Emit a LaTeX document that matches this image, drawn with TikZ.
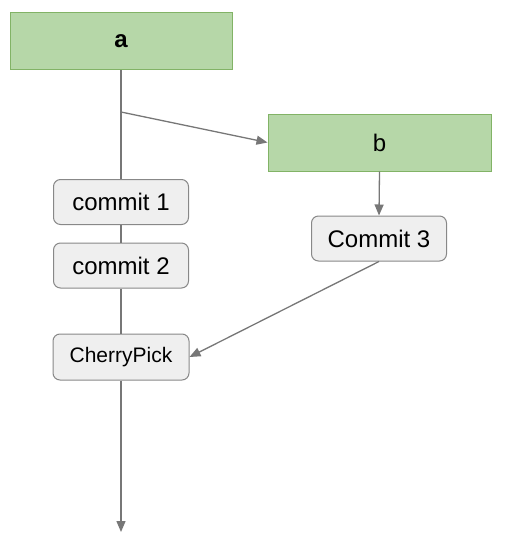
\documentclass[tikz,border=0pt]{standalone}
\usepackage{fontspec}
\setmainfont{Liberation Sans}
\usetikzlibrary{arrows.meta}
\definecolor{gfill}{HTML}{B6D7A8}
\definecolor{gdraw}{HTML}{82B366}
\definecolor{cfill}{HTML}{EFEFEF}
\definecolor{cdraw}{HTML}{888888}
\definecolor{lcol}{HTML}{777777}
\tikzset{
  branchbox/.style={draw=gdraw, fill=gfill, line width=1pt, minimum width=222pt, minimum height=57pt, inner sep=0pt, font=\fontsize{24}{28}\selectfont},
  commitbox/.style={draw=cdraw, fill=cfill, line width=1pt, rounded corners=7pt, minimum width=135pt, minimum height=45pt, inner sep=0pt, font=\fontsize{24}{28}\selectfont},
  conn/.style={draw=lcol, line width=1.3pt},
  arr/.style={conn, -{Triangle[length=11pt,width=9pt]}},
}
\begin{document}
\begin{tikzpicture}[x=1pt,y=-1pt]
\useasboundingbox (0,0) rectangle (522,541);
\node[branchbox, font=\fontsize{24}{28}\selectfont\bfseries] (a) at (121,41) {a};
\node[branchbox, minimum width=223pt] (b) at (379.5,142.5) {b};
\coordinate (end) at (121,532);
\coordinate (fork) at (121,112);
\node[commitbox] (c1) at (121,202) {commit 1};
\node[commitbox] (c2) at (121,265.5) {commit 2};
\node[commitbox] (c3) at (379,238.5) {Commit 3};
\node[commitbox, font=\fontsize{21}{25}\selectfont, minimum width=136pt, minimum height=46pt] (cp) at (121,357) {CherryPick};
\draw[conn] (a.south) -- (c1.north);
\draw[conn] (c1.south) -- (c2.north);
\draw[conn] (c2.south) -- (cp.north);
\draw[arr] (cp.south) -- (end);
\draw[arr] (fork) -- (b.west);
\draw[arr] (b.south) -- (c3.north);
\draw[arr] (c3.south) -- (cp.east);
\end{tikzpicture}
\end{document}
